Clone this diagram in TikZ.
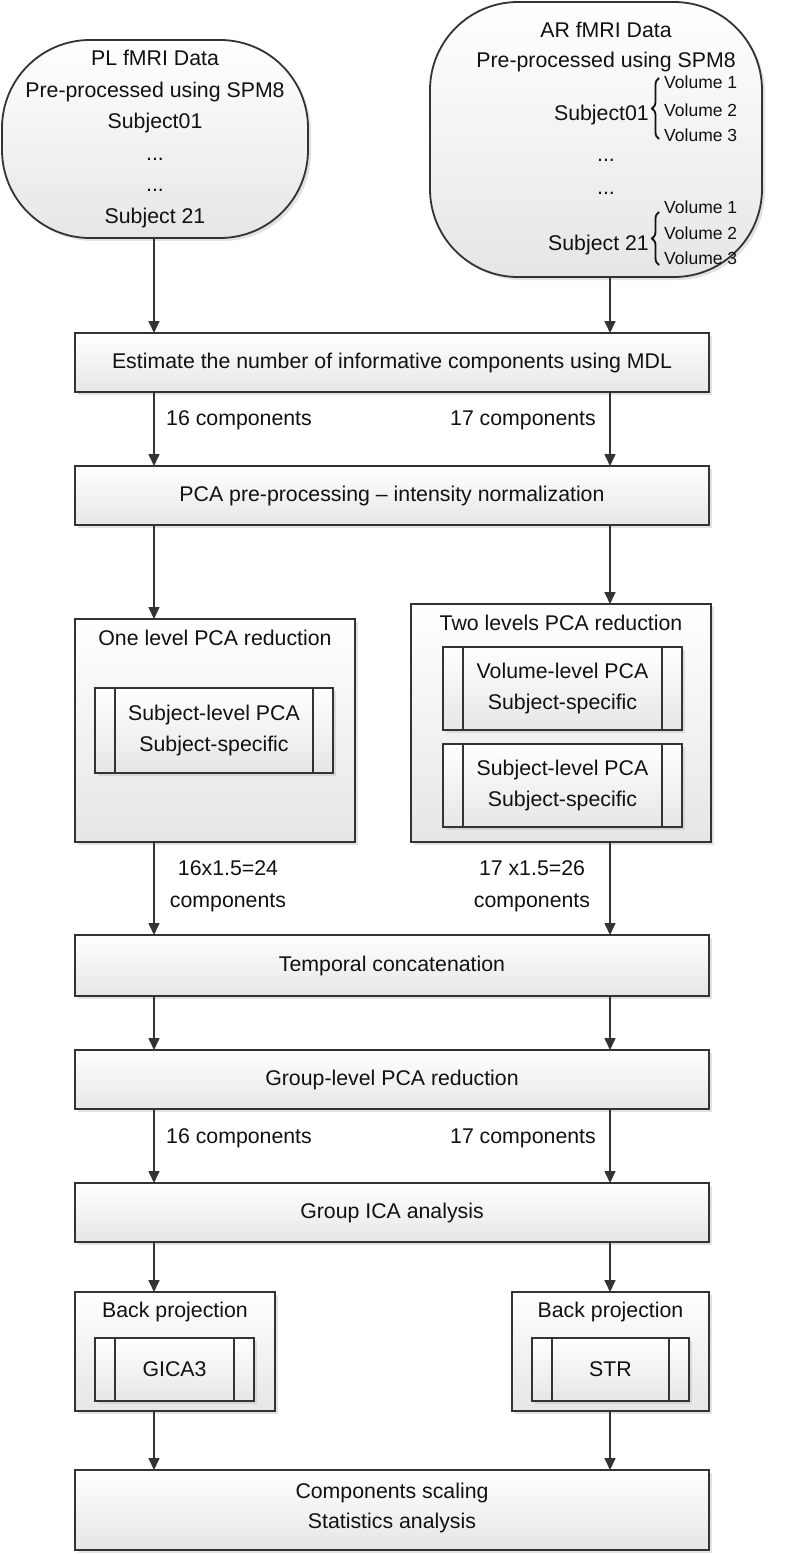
\documentclass[tikz,border=0pt]{standalone}
\usepackage{fontspec}
\setmainfont{Liberation Sans}
\usetikzlibrary{arrows.meta,shadows,decorations.pathreplacing}
\definecolor{linec}{HTML}{333333}
\definecolor{txtc}{HTML}{111111}
\definecolor{fillb}{HTML}{E6E6E6}
\tikzset{
  base/.style={draw=linec, line width=1.8pt, top color=white, bottom color=fillb,
    inner sep=0pt, outer sep=0pt,
    drop shadow={shadow xshift=3pt, shadow yshift=-3pt, fill=black!25, opacity=0.45}},
  procbox/.style={base, rectangle},
  subproc/.style={base, rectangle, text=txtc, font=\fontsize{21.3}{30.5}\selectfont, align=center,
    path picture={\draw[linec, line width=1.8pt]
      ([xshift=20pt]path picture bounding box.north west) -- ([xshift=20pt]path picture bounding box.south west)
      ([xshift=-20pt]path picture bounding box.north east) -- ([xshift=-20pt]path picture bounding box.south east);}},
  term/.style={base, rounded corners=88pt},
  txt/.style={text=txtc, font=\fontsize{21.3}{31.6}\selectfont, align=center, inner sep=0pt},
  smalltxt/.style={text=txtc, font=\fontsize{17.5}{26}\selectfont, inner sep=0pt},
  arr/.style={draw=linec, line width=1.6pt, -{Triangle[length=12pt,width=11pt]}},
  brc/.style={draw=txtc, line width=1.8pt, decorate, decoration={brace, amplitude=7pt}},
}
\begin{document}
\begin{tikzpicture}[x=1pt,y=-1pt]
\fill[white] (0,0) rectangle (792,1554);
\useasboundingbox (0,0) rectangle (792,1554);

\coordinate (cL) at (154,0);
\coordinate (cR) at (610,0);

% terminals
\node[term, minimum width=306, minimum height=198] (termL) at (155,139) {};
\node[txt] (termLtxt) at (155,139) {PL fMRI Data\\Pre-processed using SPM8\\Subject01\\...\\...\\Subject 21};

\node[term, minimum width=332, minimum height=275] (termR) at (596,139.5) {};
\node[txt] (arT) at (606,30) {AR fMRI Data};
\node[txt] (arP) at (606,62) {Pre-processed using SPM8};
\node[txt, anchor=east] (s01) at (649,115) {Subject01};
\coordinate (b1a) at (659,139);
\coordinate (b1b) at (659,78);
\draw[brc] (b1a) -- (b1b);
\node[smalltxt, anchor=west] (v11) at (664,82) {Volume 1};
\node[smalltxt, anchor=west] (v12) at (664,110) {Volume 2};
\node[smalltxt, anchor=west] (v13) at (664,135) {Volume 3};
\node[txt] (dots1) at (606,160) {...};
\node[txt] (dots2) at (606,193) {...};
\node[txt, anchor=east] (s21) at (649,245) {Subject 21};
\coordinate (b2a) at (659,265);
\coordinate (b2b) at (659,212);
\draw[brc] (b2a) -- (b2b);
\node[smalltxt, anchor=west] (v21) at (664,207) {Volume 1};
\node[smalltxt, anchor=west] (v22) at (664,233) {Volume 2};
\node[smalltxt, anchor=west] (v23) at (664,258) {Volume 3};

% main chain
\node[procbox, minimum width=634, minimum height=59] (est) at (392,362.5) {};
\node[txt] (estT) at (392,362.5) {Estimate the number of informative components using MDL};
\node[txt, anchor=west] (lab1) at (166,420) {16 components};
\node[txt, anchor=east] (lab2) at (596,420) {17 components};

\node[procbox, minimum width=634, minimum height=59] (pca) at (392,495.5) {};
\node[txt] (pcaT) at (392,495.5) {PCA pre-processing -- intensity normalization};

% one level
\node[procbox, minimum width=280, minimum height=223] (lvl1) at (215,730.5) {};
\node[txt] (lvl1T) at (215,638) {One level PCA reduction};
\node[subproc, minimum width=238, minimum height=85] (sub1) at (214,730.5) {Subject-level PCA\\Subject-specific};

% two levels
\node[procbox, minimum width=300, minimum height=238] (lvl2) at (561,723) {};
\node[txt] (lvl2T) at (561,623) {Two levels PCA reduction};
\node[subproc, minimum width=239, minimum height=83] (vol2) at (562.5,688.5) {Volume-level PCA\\Subject-specific};
\node[subproc, minimum width=239, minimum height=83] (sub2) at (562.5,785.5) {Subject-level PCA\\Subject-specific};

\node[txt, font=\fontsize{21.3}{32}\selectfont] (lab3) at (228,886) {16x1.5=24\\components};
\node[txt, font=\fontsize{21.3}{32}\selectfont] (lab4) at (532,886) {17 x1.5=26\\components};

\node[procbox, minimum width=634, minimum height=61] (temp) at (392,965.5) {};
\node[txt] (tempT) at (392,965.5) {Temporal concatenation};

\node[procbox, minimum width=634, minimum height=59] (grp) at (392,1079.5) {};
\node[txt] (grpT) at (392,1079.5) {Group-level PCA reduction};
\node[txt, anchor=west] (lab5) at (166,1138) {16 components};
\node[txt, anchor=east] (lab6) at (596,1138) {17 components};

\node[procbox, minimum width=634, minimum height=59] (ica) at (392,1212.5) {};
\node[txt] (icaT) at (392,1212.5) {Group ICA analysis};

% back projection
\node[procbox, minimum width=200, minimum height=119] (bpL) at (175,1351.5) {};
\node[txt] (bpLT) at (175,1312) {Back projection};
\node[subproc, minimum width=159, minimum height=63] (gica) at (174.5,1369.5) {GICA3};

\node[procbox, minimum width=197, minimum height=119] (bpR) at (610.5,1351.5) {};
\node[txt] (bpRT) at (610.5,1312) {Back projection};
\node[subproc, minimum width=157, minimum height=63] (str) at (610.5,1369.5) {STR};

\node[procbox, minimum width=634, minimum height=80] (fin) at (392,1510) {};
\node[txt, font=\fontsize{21.3}{30}\selectfont] (finT) at (392,1508) {Components scaling\\Statistics analysis};

% arrows
\draw[arr] (termL.south -| cL) -- (est.north -| cL);
\draw[arr] (termR.south -| cR) -- (est.north -| cR);
\draw[arr] (est.south -| cL) -- (pca.north -| cL);
\draw[arr] (est.south -| cR) -- (pca.north -| cR);
\draw[arr] (pca.south -| cL) -- (lvl1.north -| cL);
\draw[arr] (pca.south -| cR) -- (lvl2.north -| cR);
\draw[arr] (lvl1.south -| cL) -- (temp.north -| cL);
\draw[arr] (lvl2.south -| cR) -- (temp.north -| cR);
\draw[arr] (temp.south -| cL) -- (grp.north -| cL);
\draw[arr] (temp.south -| cR) -- (grp.north -| cR);
\draw[arr] (grp.south -| cL) -- (ica.north -| cL);
\draw[arr] (grp.south -| cR) -- (ica.north -| cR);
\draw[arr] (ica.south -| cL) -- (bpL.north -| cL);
\draw[arr] (ica.south -| cR) -- (bpR.north -| cR);
\draw[arr] (bpL.south -| cL) -- (fin.north -| cL);
\draw[arr] (bpR.south -| cR) -- (fin.north -| cR);
\end{tikzpicture}
\end{document}
